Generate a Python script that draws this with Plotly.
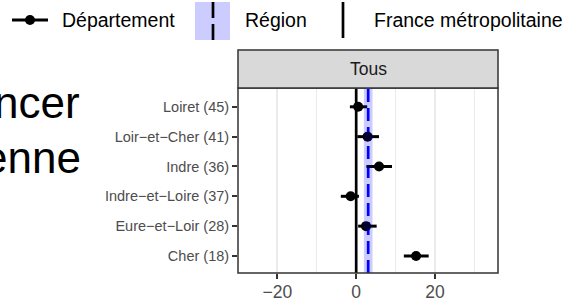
import plotly.graph_objects as go

# ---- data ----
departements = ["Cher (18)", "Eure−et−Loir (28)", "Indre−et−Loire (37)",
                "Indre (36)", "Loir−et−Cher (41)", "Loiret (45)"]
valeur = [15.2, 2.5, -1.4, 5.8, 2.9, 0.5]
ic_bas = [12.1, 0.5, -3.9, 2.6, 0.3, -1.6]
ic_haut = [18.4, 5.2, 0.7, 9.1, 5.8, 2.8]
region_valeur = 3.05
region_bas = 1.95
region_haut = 4.15
france_valeur = 0
facette = "Tous"
x_ticks = [-20, 0, 20]
x_range = [-30.0, 36.0]
y_range = [-0.57, 5.63]

W, H = 567, 301
L, R, T, B = 238, 498, 88, 273
FONT = "Liberation Sans, Arial, sans-serif"

positions = list(range(len(departements)))


def pxx(p):
    return (p - L) / (R - L)


def pxy(p):
    return (B - p) / (B - T)


fig = go.Figure()
# France line (under points, above grid)
fig.add_trace(go.Scatter(x=[france_valeur, france_valeur], y=y_range, mode="lines",
                         line=dict(color="black", width=2.7), showlegend=False,
                         hoverinfo="skip"))
# Region dashed line
fig.add_trace(go.Scatter(x=[region_valeur, region_valeur], y=y_range, mode="lines",
                         line=dict(color="#0000FF", width=2.7, dash="13px,6px"),
                         showlegend=False, hoverinfo="skip"))
# Departements
fig.add_trace(go.Scatter(
    x=valeur, y=positions, mode="markers",
    marker=dict(color="black", size=10),
    error_x=dict(type="data", symmetric=False,
                 array=[h - v for h, v in zip(ic_haut, valeur)],
                 arrayminus=[v - b for v, b in zip(valeur, ic_bas)],
                 color="black", thickness=3, width=0),
    showlegend=False, hoverinfo="skip",
))

shapes = []
# Region band (above, translucent)
shapes.append(dict(type="rect", xref="x", yref="paper", x0=region_bas, x1=region_haut,
                   y0=0, y1=1, fillcolor="rgba(0,0,255,0.2)", line=dict(width=0), layer="above"))
# panel border
shapes.append(dict(type="rect", xref="paper", yref="paper", x0=0, x1=1, y0=0, y1=1,
                   line=dict(color="#333333", width=1.5), layer="above"))
# strip
shapes.append(dict(type="rect", xref="paper", yref="paper", x0=0, x1=1, y0=1, y1=pxy(50),
                   fillcolor="#D9D9D9", line=dict(color="#333333", width=1.5), layer="above"))

# legend keys
shapes.append(dict(type="line", xref="paper", yref="paper", x0=pxx(12), x1=pxx(48),
                   y0=pxy(20), y1=pxy(20), line=dict(color="black", width=3)))
shapes.append(dict(type="circle", xref="paper", yref="paper", x0=pxx(25), x1=pxx(35),
                   y0=pxy(15), y1=pxy(25), fillcolor="black", line=dict(width=0)))
shapes.append(dict(type="rect", xref="paper", yref="paper", x0=pxx(195), x1=pxx(230),
                   y0=pxy(2), y1=pxy(40), fillcolor="#CCCCFF", line=dict(width=0)))
shapes.append(dict(type="line", xref="paper", yref="paper", x0=pxx(213), x1=pxx(213),
                   y0=pxy(2), y1=pxy(18), line=dict(color="black", width=2.7)))
shapes.append(dict(type="line", xref="paper", yref="paper", x0=pxx(213), x1=pxx(213),
                   y0=pxy(24), y1=pxy(40), line=dict(color="black", width=2.7)))
shapes.append(dict(type="line", xref="paper", yref="paper", x0=pxx(343), x1=pxx(343),
                   y0=pxy(2), y1=pxy(38), line=dict(color="black", width=2.7)))

annotations = [
    dict(text=facette, xref="paper", yref="paper", x=0.5, y=pxy(69), showarrow=False,
         xanchor="center", yanchor="middle", font=dict(size=17.5, color="#1A1A1A", family=FONT)),
    dict(text="Département", xref="paper", yref="paper", x=pxx(60), y=pxy(20), showarrow=False,
         xanchor="left", yanchor="middle", font=dict(size=19.5, color="black", family=FONT)),
    dict(text="Région", xref="paper", yref="paper", x=pxx(243), y=pxy(20), showarrow=False,
         xanchor="left", yanchor="middle", font=dict(size=19.5, color="black", family=FONT)),
    dict(text="France métropolitaine", xref="paper", yref="paper", x=pxx(372), y=pxy(20),
         showarrow=False, xanchor="left", yanchor="middle",
         font=dict(size=19.5, color="black", family=FONT)),
    dict(text="ncer", xref="paper", yref="paper", x=pxx(82), y=pxy(102), showarrow=False,
         xanchor="right", yanchor="middle", font=dict(size=44, color="black", family=FONT)),
    dict(text="enne", xref="paper", yref="paper", x=pxx(83), y=pxy(157), showarrow=False,
         xanchor="right", yanchor="middle", font=dict(size=44, color="black", family=FONT)),
]

fig.update_layout(
    width=W, height=H,
    margin=dict(l=L, r=W - R, t=T, b=H - B, pad=0),
    paper_bgcolor="white", plot_bgcolor="white",
    shapes=shapes, annotations=annotations,
    xaxis=dict(range=x_range, tickvals=x_ticks, showgrid=True, gridcolor="#EBEBEB", gridwidth=1.5,
               minor=dict(dtick=10, tick0=0, showgrid=True, gridcolor="#EBEBEB", gridwidth=0.8),
               zeroline=False, ticks="outside", ticklen=5, tickwidth=1.5, tickcolor="#333333",
               tickfont=dict(size=17.5, color="#4D4D4D", family=FONT), showline=False,
               ticklabelstandoff=-2, automargin=False),
    yaxis=dict(range=y_range, tickvals=positions, ticktext=departements,
               showgrid=False, zeroline=False, ticks="outside",
               ticklen=5, tickwidth=1.5, tickcolor="#333333",
               tickfont=dict(size=14.5, color="#4D4D4D", family=FONT), showline=False,
               automargin=False),
)

fig.write_html("out.html", config={"displayModeBar": False},
               post_script="document.body.style.margin='0';document.body.style.overflow='hidden';")
